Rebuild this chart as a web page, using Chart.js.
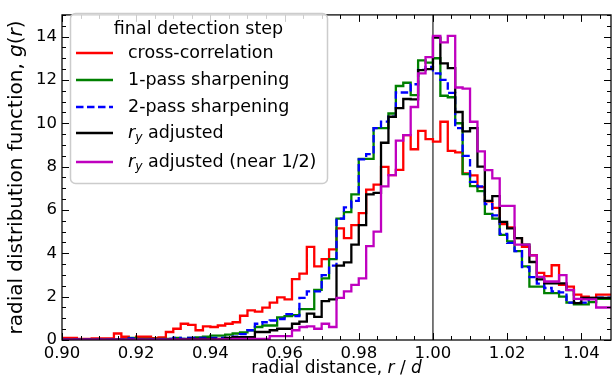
<!DOCTYPE html>
<html>
<head>
<meta charset="utf-8">
<script src="https://cdn.jsdelivr.net/npm/chart.js@4.4.1/dist/chart.umd.min.js"></script>
<style>
  html, body { margin: 0; padding: 0; background: #fff; }
  canvas { display: block; }
</style>
</head>
<body>
<canvas id="c" width="612" height="381"></canvas>
<script>
// histogram bins: left edge of first bin and bin width (r/d)
const binStart = 0.900;
const binWidth = 0.002;

// g(r) per bin (74 bins, 0.900 .. 1.048)
const crossCorr = [
  0.05, 0.10, 0.10, 0.05, 0.05, 0.07, 0.07, 0.07, 0.30, 0.15,
  0.05, 0.15, 0.15, 0.08, 0.12, 0.37, 0.52, 0.75, 0.70, 0.45,
  0.63, 0.60, 0.67, 0.75, 0.82, 1.12, 1.37, 1.31, 1.49, 1.72,
  1.97, 1.87, 2.81, 3.06, 4.30, 3.40, 3.73, 4.18, 5.15, 4.70,
  5.30, 5.85, 6.94, 7.17, 7.99, 7.61, 7.85, 9.45, 8.80, 9.65,
  9.27, 9.15, 10.07, 8.73, 8.66, 7.69, 7.60, 7.05, 6.40, 6.10,
  5.35, 5.20, 4.70, 4.30, 3.91, 3.10, 2.95, 3.45, 2.54, 2.46,
  2.09, 2.00, 1.94, 2.09
];
const onePass = [
  0.02, 0.02, 0.02, 0.02, 0.02, 0.02, 0.02, 0.03, 0.03, 0.03,
  0.10, 0.05, 0.05, 0.05, 0.05, 0.05, 0.10, 0.05, 0.10, 0.12,
  0.15, 0.20, 0.20, 0.25, 0.30, 0.35, 0.45, 0.60, 0.67, 0.67,
  1.04, 1.10, 1.15, 1.42, 1.42, 2.31, 2.84, 3.73, 5.60, 5.90,
  6.72, 8.36, 8.36, 9.78, 9.78, 10.45, 11.72, 11.87, 11.30, 12.90,
  12.80, 13.00, 11.27, 11.20, 10.00, 7.65, 7.10, 6.87, 5.82, 5.60,
  4.85, 4.55, 4.10, 3.40, 2.46, 2.46, 2.16, 2.16, 2.00, 1.72,
  1.64, 1.64, 1.75, 1.90
];
const twoPass = [
  0.02, 0.02, 0.02, 0.02, 0.02, 0.02, 0.02, 0.02, 0.02, 0.02,
  0.07, 0.02, 0.02, 0.03, 0.03, 0.05, 0.10, 0.05, 0.10, 0.10,
  0.10, 0.10, 0.10, 0.10, 0.15, 0.27, 0.45, 0.75, 0.82, 0.90,
  0.97, 1.19, 1.10, 1.94, 2.24, 2.24, 2.99, 3.43, 5.60, 6.12,
  6.42, 8.33, 8.58, 9.78, 10.08, 10.30, 11.42, 11.42, 11.80, 12.46,
  12.60, 12.30, 12.00, 11.40, 9.78, 8.50, 7.30, 7.09, 6.27, 5.75,
  4.90, 4.48, 4.10, 3.36, 2.90, 2.60, 2.40, 2.24, 2.20, 1.72,
  1.72, 1.72, 1.90, 1.95
];
const ryAdjusted = [
  0.02, 0.02, 0.02, 0.02, 0.02, 0.02, 0.02, 0.02, 0.02, 0.02,
  0.02, 0.02, 0.02, 0.02, 0.02, 0.02, 0.03, 0.03, 0.05, 0.05,
  0.05, 0.05, 0.05, 0.10, 0.13, 0.13, 0.13, 0.37, 0.37, 0.45,
  0.52, 0.52, 0.75, 0.85, 1.22, 1.07, 1.79, 1.87, 3.43, 3.58,
  4.40, 5.30, 6.72, 6.79, 9.10, 10.30, 10.70, 11.12, 11.10, 12.45,
  12.50, 13.95, 12.76, 12.54, 10.52, 9.63, 9.78, 8.00, 6.42, 6.64,
  5.45, 5.15, 4.70, 4.40, 3.60, 2.80, 2.61, 2.61, 2.61, 2.30,
  1.70, 1.94, 1.94, 1.94
];
const ryNearHalf = [
  0.02, 0.02, 0.02, 0.02, 0.02, 0.02, 0.02, 0.02, 0.02, 0.02,
  0.02, 0.02, 0.02, 0.02, 0.02, 0.02, 0.02, 0.02, 0.02, 0.02,
  0.02, 0.02, 0.03, 0.03, 0.05, 0.05, 0.05, 0.05, 0.05, 0.18,
  0.18, 0.18, 0.45, 0.60, 0.63, 0.52, 0.75, 0.60, 1.94, 2.24,
  2.54, 2.84, 4.33, 5.00, 7.09, 7.61, 9.20, 9.45, 10.75, 12.30,
  13.05, 14.03, 13.73, 14.03, 11.65, 11.60, 10.07, 8.70, 7.84, 7.46,
  6.19, 6.19, 4.40, 4.40, 3.90, 2.91, 2.70, 2.70, 2.99, 2.31,
  1.90, 1.87, 1.87, 1.50
];

const legendTitle = 'final detection step';
const legendLabels = ['cross-correlation', '1-pass sharpening', '2-pass sharpening',
                      'r_y adjusted', 'r_y adjusted (near 1/2)'];
const xTicks = [0.90, 0.92, 0.94, 0.96, 0.98, 1.00, 1.02, 1.04];
const yTicks = [0, 2, 4, 6, 8, 10, 12, 14];
const xMinorStep = 0.005;
const yMinorStep = 0.5;
const markerLine = 1.00;

const FONT = '"DejaVu Sans", sans-serif';

// step outline: one point per left bin edge, plus the closing right edge
function toSteps(values) {
    const pts = values.map((v, i) => ({ x: binStart + i * binWidth, y: v }));
    pts.push({ x: binStart + values.length * binWidth, y: values[values.length - 1] });
    return pts;
}

const series = [
    { data: crossCorr,  color: '#ff0000', dash: [] },
    { data: onePass,    color: '#008000', dash: [] },
    { data: twoPass,    color: '#0000ff', dash: [7.5, 3.5] },
    { data: ryAdjusted, color: '#000000', dash: [] },
    { data: ryNearHalf, color: '#bf00bf', dash: [] },
];

// text made of plain / italic / subscript pieces
function partFont(p, size) {
    const s = p.sub ? size * 0.7 : size;
    return (p.i ? 'italic ' : '') + s + 'px ' + FONT;
}
function richWidth(ctx, parts, size) {
    let w = 0;
    parts.forEach(p => { ctx.font = partFont(p, size); w += ctx.measureText(p.t).width; });
    return w;
}
function drawRich(ctx, parts, x, y, size, align) {
    let cx = align === 'center' ? x - richWidth(ctx, parts, size) / 2 : x;
    ctx.textBaseline = 'middle';
    ctx.textAlign = 'left';
    parts.forEach(p => {
        ctx.font = partFont(p, size);
        ctx.fillText(p.t, cx, p.sub ? y + size * 0.25 : y);
        cx += ctx.measureText(p.t).width;
    });
}
function labelParts(label) {
    if (label.startsWith('r_y'))
        return [{ t: 'r', i: true }, { t: 'y', i: true, sub: true }, { t: label.slice(3) }];
    return [{ t: label }];
}

const framePlugin = {
    id: 'frame',
    beforeDatasetsDraw: (chart) => {
        const { ctx, chartArea: a, scales } = chart;
        const px = scales.x.getPixelForValue(markerLine);
        ctx.save();
        ctx.strokeStyle = '#222';
        ctx.lineWidth = 1.2;
        ctx.beginPath();
        ctx.moveTo(px, a.top);
        ctx.lineTo(px, a.bottom);
        ctx.stroke();
        ctx.restore();
    },
    afterDraw: (chart) => {
        const { ctx, chartArea: a, scales } = chart;
        const xs = scales.x, ys = scales.y;
        ctx.save();

        // spines
        ctx.strokeStyle = '#000';
        ctx.lineWidth = 1.25;
        ctx.strokeRect(a.left, a.top, a.right - a.left, a.bottom - a.top);

        // inward ticks on all four sides
        ctx.lineWidth = 1;
        ctx.beginPath();
        for (let v = xs.min; v <= xs.max + 1e-9; v += xMinorStep) {
            const major = xTicks.some(t => Math.abs(t - v) < 1e-6);
            const len = major ? 7 : 4;
            const p = Math.round(xs.getPixelForValue(v)) + 0.5;
            ctx.moveTo(p, a.bottom); ctx.lineTo(p, a.bottom - len);
            ctx.moveTo(p, a.top); ctx.lineTo(p, a.top + len);
        }
        for (let v = ys.min; v <= ys.max + 1e-9; v += yMinorStep) {
            const major = yTicks.some(t => Math.abs(t - v) < 1e-6);
            const len = major ? 7 : 4;
            const p = Math.round(ys.getPixelForValue(v)) + 0.5;
            ctx.moveTo(a.left, p); ctx.lineTo(a.left + len, p);
            ctx.moveTo(a.right, p); ctx.lineTo(a.right - len, p);
        }
        ctx.stroke();

        // legend
        const box = { x: 70, y: 13, w: 257, h: 170 };
        ctx.beginPath();
        ctx.roundRect(box.x + 0.5, box.y + 0.5, box.w, box.h, 5);
        ctx.fillStyle = 'rgba(255,255,255,0.8)';
        ctx.fill();
        ctx.strokeStyle = '#cccccc';
        ctx.lineWidth = 1.5;
        ctx.stroke();

        ctx.fillStyle = '#000';
        drawRich(ctx, [{ t: legendTitle }], box.x + box.w / 2, 29, 17.5, 'center');
        const rows = [53, 80, 107, 133, 162];
        legendLabels.forEach((label, i) => {
            const s = series[i];
            ctx.strokeStyle = s.color;
            ctx.lineWidth = 2.4;
            ctx.setLineDash(s.dash);
            ctx.beginPath();
            ctx.moveTo(76, rows[i]);
            ctx.lineTo(113, rows[i]);
            ctx.stroke();
            ctx.setLineDash([]);
            ctx.fillStyle = '#000';
            drawRich(ctx, labelParts(label), 128, rows[i], 17.5, 'left');
        });

        // axis titles
        ctx.fillStyle = '#000';
        drawRich(ctx, [{ t: 'radial distance, ' }, { t: 'r', i: true }, { t: ' / ' }, { t: 'd', i: true }],
                 (a.left + a.right) / 2, 369, 17, 'center');
        ctx.translate(17, (a.top + a.bottom) / 2);
        ctx.rotate(-Math.PI / 2);
        drawRich(ctx, [{ t: 'radial distribution function, ' }, { t: 'g', i: true }, { t: '(' },
                       { t: 'r', i: true }, { t: ')' }], 0, 0, 20, 'center');
        ctx.restore();
    }
};

new Chart(document.getElementById('c'), {
    type: 'line',
    data: {
        datasets: series.map((s, i) => ({
            label: legendLabels[i],
            data: toSteps(s.data),
            borderColor: s.color,
            backgroundColor: s.color,
            borderWidth: 2.3,
            borderDash: s.dash,
            stepped: 'after',
            pointRadius: 0,
            fill: false,
            order: series.length - i,
        }))
    },
    options: {
        responsive: false,
        animation: false,
        layout: { padding: { top: 5, right: 1, left: 0, bottom: 0 } },
        plugins: { legend: { display: false }, tooltip: { enabled: false } },
        scales: {
            x: {
                type: 'linear',
                min: binStart,
                max: binStart + crossCorr.length * binWidth,
                grid: { display: false, drawTicks: false },
                border: { display: false },
                ticks: {
                    color: '#000', padding: 4, maxRotation: 0, autoSkip: false,
                    font: { family: FONT, size: 16.5 },
                    callback: v => v.toFixed(2)
                },
                afterBuildTicks: s => { s.ticks = xTicks.map(v => ({ value: v })); },
                afterFit: s => { s.height = 41; }
            },
            y: {
                min: 0,
                max: 15,
                grid: { display: false, drawTicks: false },
                border: { display: false },
                ticks: {
                    color: '#000', padding: 5,
                    font: { family: FONT, size: 16.5 },
                    callback: v => String(v)
                },
                afterBuildTicks: s => { s.ticks = yTicks.map(v => ({ value: v })); },
                afterFit: s => { s.width = 62; }
            }
        }
    },
    plugins: [framePlugin]
});
</script>
</body>
</html>
